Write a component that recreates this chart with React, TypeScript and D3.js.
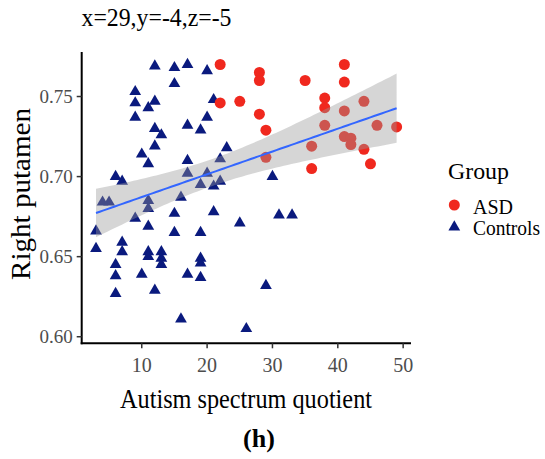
import { useMemo } from 'react'
import * as d3 from 'd3'

const WIDTH = 545
const HEIGHT = 459
const PLOT = { left: 81.7, right: 411, top: 52, bottom: 343.3 }

// Controls group (triangles)
const controlsAQ = [
  12, 15, 17, 20, 15, 9, 9, 11, 12, 9, 21, 20, 17, 19, 12, 13, 12, 10, 11, 17, 23, 22,
  6, 7, 17, 20, 19, 21, 22, 4, 5, 11, 11, 16, 21, 9, 11, 15, 15, 19, 3, 3, 7, 7, 6, 6,
  6, 10, 11, 11, 13, 13, 13, 12, 17, 19, 19, 19, 16, 25, 31, 33, 29, 26, 30,
]
const controlsPutamen = [
  0.769, 0.768, 0.77, 0.766, 0.758, 0.753, 0.746, 0.743, 0.747, 0.737, 0.748, 0.737,
  0.732, 0.729, 0.73, 0.726, 0.719, 0.714, 0.708, 0.71, 0.718, 0.711, 0.7, 0.697, 0.702,
  0.702, 0.695, 0.694, 0.697, 0.684, 0.684, 0.685, 0.68, 0.687, 0.678, 0.674, 0.669,
  0.677, 0.665, 0.665, 0.666, 0.655, 0.659, 0.653, 0.645, 0.638, 0.627, 0.639, 0.653,
  0.65, 0.653, 0.649, 0.645, 0.629, 0.639, 0.649, 0.646, 0.637, 0.611, 0.671, 0.676,
  0.676, 0.632, 0.605, 0.7,
]

// ASD group (circles)
const asdAQ = [
  22, 22, 25, 28, 28, 28, 29, 29, 35, 41, 41, 38, 38, 41, 38, 44, 36, 36, 41, 42, 42, 44,
  45, 46, 49,
]
const asdPutamen = [
  0.77, 0.746, 0.747, 0.765, 0.76, 0.739, 0.729, 0.712, 0.76, 0.77, 0.759, 0.749, 0.743,
  0.741, 0.732, 0.747, 0.719, 0.705, 0.725, 0.724, 0.72, 0.717, 0.708, 0.732, 0.731,
]

const xTicks = [10, 20, 30, 40, 50]
const yTicks = [0.6, 0.65, 0.7, 0.75]
const T_CRIT = 1.987 // t(0.975, df = 88)

const FONT = "'Liberation Serif', 'Times New Roman', serif"
const RED = '#F0281E'
const NAVY = '#0A1A7E'

export default function App() {
  const xScale = d3.scaleLinear().domain([0.81, 51.2]).range([PLOT.left, PLOT.right])
  const yScale = d3.scaleLinear().domain([0.5959, 0.7778]).range([PLOT.bottom, PLOT.top])

  // linear fit with 95% confidence band over all points, like geom_smooth(method = lm)
  const fit = useMemo(() => {
    const xs = [...controlsAQ, ...asdAQ]
    const ys = [...controlsPutamen, ...asdPutamen]
    const n = xs.length
    const mx = d3.mean(xs)!
    const my = d3.mean(ys)!
    const sxx = d3.sum(xs, (x) => (x - mx) ** 2)
    const sxy = d3.sum(xs, (x, i) => (x - mx) * (ys[i] - my))
    const b = sxy / sxx
    const a = my - b * mx
    const s = Math.sqrt(d3.sum(xs, (x, i) => (ys[i] - a - b * x) ** 2) / (n - 2))
    const [x0, x1] = d3.extent(xs) as [number, number]
    return d3.range(0, 81).map((k) => {
      const x = x0 + ((x1 - x0) * k) / 80
      const se = s * Math.sqrt(1 / n + (x - mx) ** 2 / sxx)
      const y = a + b * x
      return { x, y, lo: y - T_CRIT * se, hi: y + T_CRIT * se }
    })
  }, [])

  const band = d3
    .area<{ x: number; lo: number; hi: number }>()
    .x((d) => xScale(d.x))
    .y0((d) => yScale(d.lo))
    .y1((d) => yScale(d.hi))(fit)
  const line = d3
    .line<{ x: number; y: number }>()
    .x((d) => xScale(d.x))
    .y((d) => yScale(d.y))(fit)

  const tri = d3.symbol(d3.symbolTriangle, 60)()
  const txt = { fontFamily: FONT }

  return (
    <svg
      width={WIDTH}
      height={HEIGHT}
      style={{ position: 'absolute', left: 0, top: 0, background: 'white' }}
    >
      <text x={81.5} y={26} fontSize={26} textLength={150} lengthAdjust="spacingAndGlyphs" style={txt}>
        x=29,y=-4,z=-5
      </text>

      {controlsAQ.map((x, i) => (
        <path
          key={'c' + i}
          d={tri!}
          transform={`translate(${xScale(x)},${yScale(controlsPutamen[i])})`}
          fill={NAVY}
        />
      ))}
      {asdAQ.map((x, i) => (
        <circle key={'a' + i} cx={xScale(x)} cy={yScale(asdPutamen[i])} r={5.5} fill={RED} />
      ))}

      <path d={band!} fill="#999999" fillOpacity={0.4} />
      <path d={line!} fill="none" stroke="#3366FF" strokeWidth={2} />

      {/* axes */}
      <line x1={PLOT.left} x2={PLOT.left} y1={PLOT.top} y2={PLOT.bottom + 1} stroke="black" strokeWidth={2} />
      <line x1={PLOT.left - 1} x2={PLOT.right} y1={PLOT.bottom} y2={PLOT.bottom} stroke="black" strokeWidth={2} />
      {xTicks.map((t) => (
        <g key={t} transform={`translate(${xScale(t)},${PLOT.bottom})`}>
          <line y1={0} y2={5} stroke="#333" strokeWidth={1.5} />
          <text y={29} textAnchor="middle" fontSize={20} fill="#4D4D4D" style={txt}>
            {t}
          </text>
        </g>
      ))}
      {yTicks.map((t) => (
        <g key={t} transform={`translate(${PLOT.left},${yScale(t)})`}>
          <line x1={0} x2={-5} stroke="#333" strokeWidth={1.5} />
          <text x={-9} dy="0.35em" textAnchor="end" fontSize={19} fill="#4D4D4D" style={txt}>
            {d3.format('.2f')(t)}
          </text>
        </g>
      ))}

      <text x={120} y={408} fontSize={28} textLength={252} lengthAdjust="spacingAndGlyphs" style={txt}>
        Autism spectrum quotient
      </text>
      <text
        transform="translate(30,280) rotate(-90)"
        fontSize={27}
        textLength={172}
        lengthAdjust="spacingAndGlyphs"
        style={txt}
      >
        Right putamen
      </text>

      {/* legend */}
      <text x={448} y={179} fontSize={24} textLength={61} lengthAdjust="spacingAndGlyphs" style={txt}>
        Group
      </text>
      <circle cx={454.3} cy={205} r={5.5} fill={RED} />
      <text x={473} y={214} fontSize={20} style={txt}>
        ASD
      </text>
      <path d={tri!} transform="translate(454.3,227)" fill={NAVY} />
      <text x={473} y={235} fontSize={20} textLength={67} lengthAdjust="spacingAndGlyphs" style={txt}>
        Controls
      </text>

      <text x={259} y={447} textAnchor="middle" fontSize={26} fontWeight="bold" style={txt}>
        (h)
      </text>
    </svg>
  )
}
